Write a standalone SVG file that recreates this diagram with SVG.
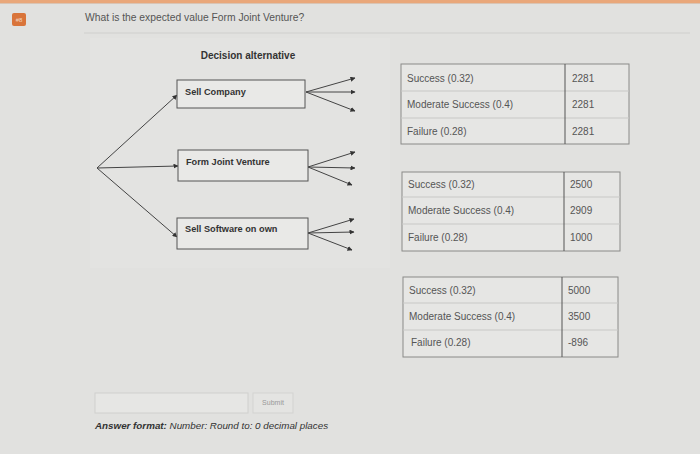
<svg xmlns="http://www.w3.org/2000/svg" width="700" height="454" viewBox="0 0 700 454">
<defs>
<marker id="ah" viewBox="0 0 10 10" refX="9" refY="5" markerWidth="5" markerHeight="5" orient="auto" markerUnits="userSpaceOnUse">
<path d="M0,0 L10,5 L0,10 z" fill="#333"/>
</marker>
<style>
.q{font-family:"Liberation Sans",Arial,sans-serif;font-size:10.3px;fill:#555}
.lbl{font-family:"Liberation Sans",Arial,sans-serif;font-size:9.2px;font-weight:bold;fill:#333}
.box{fill:#e9e9e7;stroke:#555;stroke-width:1}
.arr{stroke:#444;stroke-width:1;fill:none;marker-end:url(#ah)}
.tbl{fill:#e6e6e4;stroke:#8a8a88;stroke-width:1}
.row{stroke:#c8c8c6;stroke-width:1}
.div{stroke:#555;stroke-width:1}
.t{font-family:"Liberation Sans",Arial,sans-serif;font-size:10px;fill:#555}
</style>
</defs>
<rect width="700" height="454" fill="#e1e1df"/>
<rect x="0" y="0" width="700" height="3" fill="#e9a77a"/>
<rect x="0" y="3" width="700" height="1" fill="#d9c4b4"/>
<rect x="12" y="13" width="14" height="13" rx="2" fill="#d9743a"/>
<text x="19" y="22" font-family="Liberation Sans,Arial,sans-serif" font-size="6" fill="#f3d5c0" text-anchor="middle">#8</text>
<text class="q" x="85" y="21">What is the expected value Form Joint Venture?</text>
<line x1="84" y1="33" x2="690" y2="33" stroke="#cfcfcd" stroke-width="1"/>
<rect x="90" y="38" width="300" height="230" fill="#e3e3e1"/>
<text class="lbl" x="248" y="59" text-anchor="middle" style="font-size:10px">Decision alternative</text>
<g id="connectors">
<path class="arr" d="M97,168 L177,95"/>
<path class="arr" d="M97,168 L178,166"/>
<path class="arr" d="M97,168 L177,237"/>
<path class="arr" d="M306,92 L355,78"/>
<path class="arr" d="M306,92 L355,92"/>
<path class="arr" d="M306,92 L355,111"/>
<path class="arr" d="M308,167 L355,152"/>
<path class="arr" d="M308,167 L355,168"/>
<path class="arr" d="M308,167 L352,185"/>
<path class="arr" d="M308,233 L354,219"/>
<path class="arr" d="M308,233 L354,232"/>
<path class="arr" d="M308,233 L352,250"/>
</g>
<g id="sell-company">
<rect class="box" x="177" y="80" width="128" height="28"/>
<text class="lbl" x="185" y="95">Sell Company</text>
</g>
<g id="form-joint-venture">
<rect class="box" x="178" y="150" width="130" height="31"/>
<text class="lbl" x="186" y="165">Form Joint Venture</text>
</g>
<g id="sell-software">
<rect class="box" x="177" y="218" width="131" height="31"/>
<text class="lbl" x="185" y="232">Sell Software on own</text>
</g>
<g id="table-sell-company">
<rect class="tbl" x="401" y="64" width="228" height="80"/>
<line class="row" x1="401" y1="91" x2="629" y2="91"/>
<line class="row" x1="401" y1="118" x2="629" y2="118"/>
<line class="div" x1="565" y1="64" x2="565" y2="144"/>
<text class="t" x="407" y="82">Success (0.32)</text>
<text class="t" x="407" y="108">Moderate Success (0.4)</text>
<text class="t" x="407" y="135">Failure (0.28)</text>
<text class="t" x="572" y="82">2281</text>
<text class="t" x="572" y="108">2281</text>
<text class="t" x="572" y="135">2281</text>
</g>
<g id="table-joint-venture">
<rect class="tbl" x="402" y="172" width="218" height="79"/>
<line class="row" x1="402" y1="197" x2="620" y2="197"/>
<line class="row" x1="402" y1="224" x2="620" y2="224"/>
<line class="div" x1="564" y1="172" x2="564" y2="251"/>
<text class="t" x="408" y="188">Success (0.32)</text>
<text class="t" x="408" y="214">Moderate Success (0.4)</text>
<text class="t" x="408" y="241">Failure (0.28)</text>
<text class="t" x="570" y="188">2500</text>
<text class="t" x="570" y="214">2909</text>
<text class="t" x="570" y="241">1000</text>
</g>
<g id="table-sell-software">
<rect class="tbl" x="403" y="277" width="215" height="80"/>
<line class="row" x1="403" y1="303" x2="618" y2="303"/>
<line class="row" x1="403" y1="330" x2="618" y2="330"/>
<line class="div" x1="562" y1="277" x2="562" y2="357"/>
<text class="t" x="409" y="294">Success (0.32)</text>
<text class="t" x="409" y="320">Moderate Success (0.4)</text>
<text class="t" x="411" y="346">Failure (0.28)</text>
<text class="t" x="568" y="294">5000</text>
<text class="t" x="568" y="320">3500</text>
<text class="t" x="568" y="346">-896</text>
</g>
<rect x="95" y="393" width="153" height="20" fill="#e6e6e4" stroke="#d0d0ce" stroke-width="1"/>
<rect x="253" y="393" width="40" height="20" fill="#e4e4e2" stroke="#d3d3d1" stroke-width="1"/>
<text x="273" y="405" font-family="Liberation Sans,Arial,sans-serif" font-size="7" fill="#999" text-anchor="middle">Submit</text>
<text x="95" y="429" font-family="Liberation Sans,Arial,sans-serif" font-size="9.8" fill="#333" font-style="italic"><tspan font-weight="bold">Answer format:</tspan> Number: Round to: 0 decimal places</text>
</svg>
